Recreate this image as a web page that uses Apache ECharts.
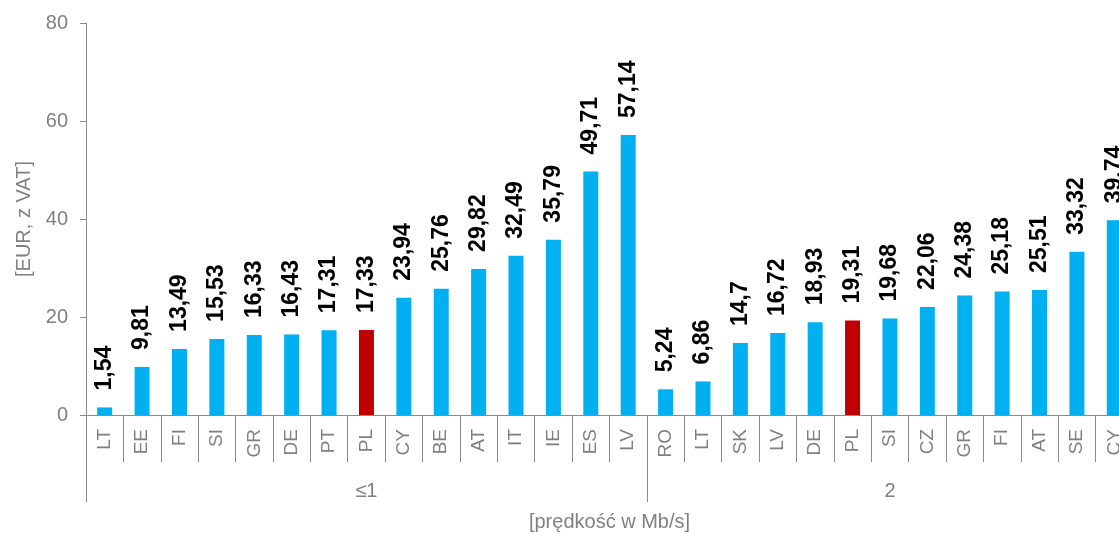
<!DOCTYPE html>
<html>
<head>
<meta charset="utf-8">
<script src="https://cdn.jsdelivr.net/npm/echarts@6/dist/echarts.min.js"></script>
<style>html,body{margin:0;padding:0;background:#fff;}#c{width:1119px;height:533px;}</style>
</head>
<body>
<div id="c"></div>
<script>
// ----- data -----
const groupNames = ['≤1', '2'];
const group1Countries = ['LT','EE','FI','SI','GR','DE','PT','PL','CY','BE','AT','IT','IE','ES','LV'];
const group1Values = [1.54, 9.81, 13.49, 15.53, 16.33, 16.43, 17.31, 17.33, 23.94, 25.76, 29.82, 32.49, 35.79, 49.71, 57.14];
const group2Countries = ['RO','LT','SK','LV','DE','PL','SI','CZ','GR','FI','AT','SE','CY'];
const group2Values = [5.24, 6.86, 14.7, 16.72, 18.93, 19.31, 19.68, 22.06, 24.38, 25.18, 25.51, 33.32, 39.74];
const yTicks = [0, 20, 40, 60, 80];
const highlight = 'PL';
const xTitle = '[prędkość w Mb/s]';
const yTitle = '[EUR, z VAT]';

// ----- build -----
const categories = group1Countries.concat(group2Countries);
const values = group1Values.concat(group2Values);
const groups = [group1Countries.length, group2Countries.length];
const total = categories.length;
// half-unit points for group axis (boundaryGap false)
const halfN = total * 2;
const groupAxisData = new Array(halfN + 1).fill('');
const groupBoundaries = [0];
let acc = 0;
groups.forEach((n, i) => {
  groupAxisData[acc * 2 + n] = groupNames[i];
  acc += n;
  groupBoundaries.push(acc * 2);
});

const gray = '#8a8a8a';
const textGray = '#808080';
const font = '"Liberation Sans", Arial, sans-serif';

const chart = echarts.init(document.getElementById('c'));
chart.setOption({
  animation: false,
  grid: { left: 86, top: 23, bottom: 118, width: 1047, outerBoundsMode: 'none', containLabel: false },
  xAxis: [
    {
      type: 'category',
      data: categories,
      position: 'bottom',
      axisLine: { show: true, lineStyle: { color: gray, width: 1 } },
      axisTick: { show: true, interval: 0, length: 47, lineStyle: { color: gray, width: 1 } },
      axisLabel: { interval: 0, rotate: 90, margin: 14, color: textGray, fontSize: 19, fontFamily: font },
      name: xTitle,
      nameLocation: 'middle',
      nameGap: 97,
      nameTextStyle: { color: textGray, fontSize: 20, fontFamily: font }
    },
    {
      type: 'category',
      data: groupAxisData,
      boundaryGap: false,
      position: 'bottom',
      axisLine: { show: false },
      axisTick: { show: true, length: 87, interval: (i) => groupBoundaries.includes(i), lineStyle: { color: gray, width: 1 } },
      axisLabel: { interval: 0, margin: 66, color: textGray, fontSize: 20, fontFamily: font, hideOverlap: false }
    }
  ],
  yAxis: {
    type: 'value',
    min: yTicks[0],
    max: yTicks[yTicks.length - 1],
    interval: yTicks[1] - yTicks[0],
    splitLine: { show: false },
    axisLine: { show: true, lineStyle: { color: gray, width: 1 } },
    axisTick: { show: true, length: 6, lineStyle: { color: gray } },
    axisLabel: { margin: 18, color: textGray, fontSize: 20, fontFamily: font },
    name: yTitle,
    nameLocation: 'middle',
    nameRotate: 90,
    nameGap: 44,
    nameTextStyle: { color: textGray, fontSize: 20, fontFamily: font }
  },
  series: [{
    type: 'bar',
    xAxisIndex: 0,
    data: values,
    barWidth: 15,
    itemStyle: { color: (p) => p.name === highlight ? '#C00000' : '#00B0F0' },
    label: {
      show: true,
      position: 'top',
      rotate: 90,
      align: 'left',
      verticalAlign: 'middle',
      distance: 17,
      color: '#000',
      fontWeight: 'bold',
      fontSize: 23,
      fontFamily: font,
      formatter: (p) => String(p.value).replace('.', ',')
    }
  }]
});
</script>
</body>
</html>
